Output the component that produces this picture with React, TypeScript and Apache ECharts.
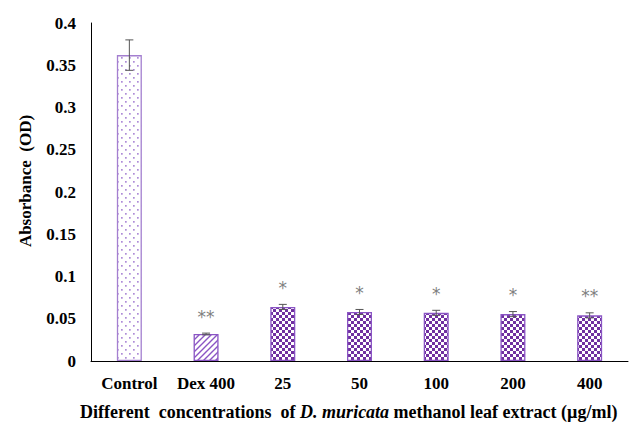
import React, { useEffect, useRef } from "react";
import * as echarts from "echarts";

const categories = ["Control", "Dex 400", "25", "50", "100", "200", "400"];
const meanValues = [0.362, 0.032, 0.064, 0.058, 0.057, 0.0555, 0.054];
const errorValues = [0.018, 0.001, 0.003, 0.003, 0.003, 0.003, 0.003];
const significance = ["", "**", "*", "*", "*", "*", "**"];
const yTicks = { min: 0, max: 0.4, interval: 0.05 };

function makeCanvas(w: number, h: number, draw: (ctx: CanvasRenderingContext2D) => void) {
  const c = document.createElement("canvas");
  c.width = w;
  c.height = h;
  const ctx = c.getContext("2d")!;
  ctx.fillStyle = "#ffffff";
  ctx.fillRect(0, 0, w, h);
  draw(ctx);
  return c;
}

export default function App() {
  const ref = useRef<HTMLDivElement>(null);
  useEffect(() => {
    if (!ref.current) return;
    const chart = echarts.init(ref.current, null, { renderer: "svg" });

    const dots = makeCanvas(8, 8, (ctx) => {
      ctx.fillStyle = "#ae8cd8";
      ctx.fillRect(1, 1, 1.7, 1.7);
      ctx.fillRect(5, 5, 1.7, 1.7);
    });
    const hatch = makeCanvas(6, 6, (ctx) => {
      ctx.strokeStyle = "#8a55c4";
      ctx.lineWidth = 1.4;
      ctx.beginPath();
      ctx.moveTo(-1, 7);
      ctx.lineTo(7, -1);
      ctx.moveTo(-1, 1);
      ctx.lineTo(1, -1);
      ctx.moveTo(5, 7);
      ctx.lineTo(7, 5);
      ctx.stroke();
    });
    const checker = makeCanvas(6, 6, (ctx) => {
      ctx.fillStyle = "#7030a0";
      ctx.fillRect(0, 0, 3, 3);
      ctx.fillRect(3, 3, 3, 3);
    });

    const patFor = (i: number) => {
      if (i === 0) return { image: dots, repeat: "repeat" as const };
      if (i === 1) return { image: hatch, repeat: "repeat" as const };
      return { image: checker, repeat: "repeat" as const };
    };

    const serif = "'Liberation Serif', 'Times New Roman', serif";

    chart.setOption({
      animation: false,
      backgroundColor: "#ffffff",
      grid: { left: 91, right: 5, top: 23, bottom: 65 },
      xAxis: {
        type: "category",
        data: categories,
        axisLine: { lineStyle: { color: "#000", width: 1 } },
        axisTick: { show: false },
        axisLabel: {
          color: "#000",
          fontFamily: serif,
          fontWeight: "bold",
          fontSize: 17,
          margin: 14,
        },
      },
      yAxis: {
        type: "value",
        min: yTicks.min,
        max: yTicks.max,
        interval: yTicks.interval,
        axisLine: { show: true, lineStyle: { color: "#000", width: 1 } },
        axisTick: { show: false },
        splitLine: { show: false },
        axisLabel: {
          color: "#000",
          fontFamily: serif,
          fontWeight: "bold",
          fontSize: 17,
          margin: 15,
        },
      },
      series: [
        {
          type: "bar",
          barWidth: 25,
          data: meanValues.map((v, i) => ({
            value: v,
            itemStyle: {
              color: patFor(i),
              borderColor: i === 0 ? "#a47fd0" : "#8a55c4",
              borderWidth: 1.3,
            },
          })),
        },
        {
          type: "custom",
          renderItem: (params: any, api: any) => {
            const i = api.value(0);
            const m = api.value(1);
            const e = api.value(2);
            const top = api.coord([i, m + e]);
            const bot = api.coord([i, m - e]);
            const hw = 4;
            const children: any[] = [
              { type: "line", shape: { x1: top[0], y1: top[1], x2: top[0], y2: bot[1] }, style: { stroke: "#555", lineWidth: 1 } },
              { type: "line", shape: { x1: top[0] - hw, y1: top[1], x2: top[0] + hw, y2: top[1] }, style: { stroke: "#555", lineWidth: 1 } },
              { type: "line", shape: { x1: bot[0] - hw, y1: bot[1], x2: bot[0] + hw, y2: bot[1] }, style: { stroke: "#555", lineWidth: 1 } },
            ];
            const s = significance[i];
            if (s) {
              children.push({
                type: "text",
                x: top[0],
                y: top[1] - 8,
                style: {
                  text: s,
                  fill: "#808080",
                  font: "17px 'DejaVu Sans', sans-serif",
                  textAlign: "center",
                  textVerticalAlign: "bottom",
                },
              });
            }
            return { type: "group", children };
          },
          data: meanValues.map((v, i) => [i, v, errorValues[i]]),
          z: 10,
        },
      ],
      graphic: [
        {
          type: "text",
          x: 25,
          y: 181,
          rotation: Math.PI / 2,
          style: {
            text: "Absorbance  (OD)",
            fill: "#000",
            font: "bold 17px 'Liberation Serif', 'Times New Roman', serif",
            textAlign: "center",
            textVerticalAlign: "middle",
          },
        },
        {
          type: "text",
          left: 80,
          top: 403,
          style: {
            text: "{b|Different  concentrations  of }{i|D. muricata}{b| methanol leaf extract (µg/ml)}",
            rich: {
              b: { fontFamily: serif, fontWeight: "bold", fontSize: 18, fill: "#000" },
              i: { fontFamily: serif, fontWeight: "bold", fontStyle: "italic", fontSize: 18, fill: "#000" },
            },
          },
        },
      ],
    });
    return () => chart.dispose();
  }, []);
  return <div ref={ref} style={{ width: 633, height: 426, position: "absolute", left: 0, top: 0 }} />;
}
